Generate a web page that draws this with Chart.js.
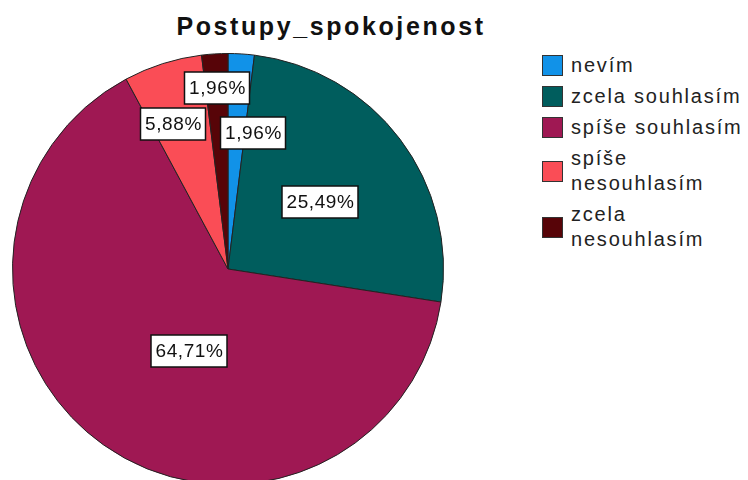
<!DOCTYPE html>
<html>
<head>
<meta charset="utf-8">
<script src="https://cdn.jsdelivr.net/npm/chart.js@4/dist/chart.umd.min.js"></script>
<style>
  html, body { margin: 0; padding: 0; background: #fff; overflow: hidden; width: 748px; height: 480px; }
  #title {
    position: absolute; left: 131px; top: 14px; width: 400px; text-align: center;
    font: bold 25px "Liberation Sans", Arial, sans-serif; line-height: 25px; color: #111;
    letter-spacing: 2.6px; white-space: nowrap;
  }
  #pieBox { position: absolute; left: 0; top: 0; width: 456px; height: 538px; }
  #legend {
    position: absolute; left: 542px; top: 53px; width: 206px;
    font: 20px "Liberation Sans", Arial, sans-serif; color: #222; letter-spacing: 1.8px;
  }
  .item { display: flex; align-items: center; margin-bottom: 6px; }
  .swatch { width: 19px; height: 19px; border: 1.5px solid #333; flex: none; margin-right: 8px; }
  .lbl { line-height: 25px; width: 176px; }
</style>
</head>
<body>
<div id="title">Postupy_spokojenost</div>
<div id="pieBox"><canvas id="pie" width="456" height="538"></canvas></div>
<div id="legend"></div>
<script>
// categories and share of answers (%)
const categories = ["nevím", "zcela souhlasím", "spíše souhlasím", "spíše nesouhlasím", "zcela nesouhlasím"];
const percentages = [1.96, 25.49, 64.71, 5.88, 1.96];
const sliceColors = ["#1192e8", "#005d5d", "#9f1853", "#fa4d56", "#570408"];

// label placement: [fraction of radius, angle nudge in degrees]
const labelPlacement = [[0.64, 7], [0.53, 1], [0.42, -10], [0.72, -3], [0.84, 0]];

const fmt = v => v.toFixed(2).replace(".", ",") + "%";

// boxed percentage labels like SPSS
const boxLabels = {
  id: "boxLabels",
  afterDatasetsDraw(chart) {
    const ctx = chart.ctx;
    const meta = chart.getDatasetMeta(0);
    ctx.save();
    ctx.font = '19px "Liberation Sans", Arial, sans-serif';
    ctx.letterSpacing = "0.6px";
    ctx.textAlign = "center";
    ctx.textBaseline = "middle";
    meta.data.forEach((arc, i) => {
      const p = arc.getProps(["x", "y", "startAngle", "endAngle", "outerRadius"], true);
      const [frac, nudge] = labelPlacement[i];
      const a = (p.startAngle + p.endAngle) / 2 + nudge * Math.PI / 180;
      const r = p.outerRadius * frac;
      const cx = Math.round(p.x + Math.cos(a) * r);
      const cy = Math.round(p.y + Math.sin(a) * r);
      const txt = fmt(percentages[i]);
      const w = Math.round(ctx.measureText(txt).width + 8);
      const h = 32;
      ctx.fillStyle = "#fff";
      ctx.fillRect(cx - w / 2, cy - h / 2, w, h);
      ctx.strokeStyle = "#111";
      ctx.lineWidth = 1.5;
      ctx.strokeRect(cx - w / 2, cy - h / 2, w, h);
      ctx.fillStyle = "#111";
      ctx.fillText(txt, cx + 0.5, cy + 1);
    });
    ctx.restore();
  }
};

new Chart(document.getElementById("pie"), {
  type: "pie",
  data: {
    labels: categories,
    datasets: [{
      data: percentages,
      backgroundColor: sliceColors,
      borderColor: "#222",
      borderWidth: 1
    }]
  },
  options: {
    responsive: false,
    animation: false,
    layout: { padding: 12 },
    plugins: {
      legend: { display: false },
      tooltip: { enabled: false }
    }
  },
  plugins: [boxLabels]
});

// legend built from the same arrays
const legend = document.getElementById("legend");
categories.forEach((c, i) => {
  const row = document.createElement("div");
  row.className = "item";
  row.innerHTML = '<div class="swatch" style="background:' + sliceColors[i] + '"></div><div class="lbl">' + c + '</div>';
  legend.appendChild(row);
});
</script>
</body>
</html>
